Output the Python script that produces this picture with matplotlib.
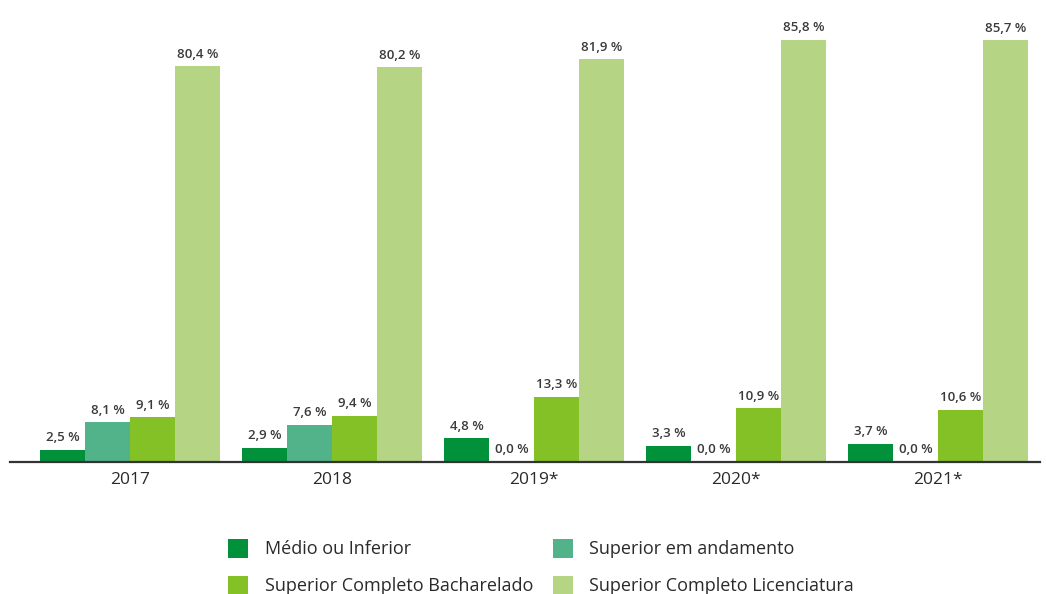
import matplotlib
matplotlib.use("Agg")
import matplotlib.pyplot as plt
import numpy as np
from matplotlib.patches import Patch

plt.rcParams['font.family'] = ['Open Sans', 'DejaVu Sans']

years = ["2017", "2018", "2019*", "2020*", "2021*"]
series_names = ["Médio ou Inferior", "Superior em andamento",
                "Superior Completo Bacharelado", "Superior Completo Licenciatura"]
medio = [2.5, 2.9, 4.8, 3.3, 3.7]
andamento = [8.1, 7.6, 0.0, 0.0, 0.0]
bacharelado = [9.1, 9.4, 13.3, 10.9, 10.6]
licenciatura = [80.4, 80.2, 81.9, 85.8, 85.7]
colors = ["#00913A", "#52B38A", "#84C126", "#B5D584"]

data = [medio, andamento, bacharelado, licenciatura]

fig = plt.figure(figsize=(10.46, 5.94), dpi=100)
ax = fig.add_axes([10/1046, 132/594, 1030/1046, 457/594])

x = np.arange(len(years))
w = 0.223
offsets = [-1.5, -0.5, 0.5, 1.5]
for vals, col, off in zip(data, colors, offsets):
    bars = ax.bar(x + off * w, vals, width=w, color=col, linewidth=0)
    for b, v in zip(bars, vals):
        ax.annotate(f"{v:.1f} %".replace(".", ","),
                    (b.get_x() + b.get_width() / 2, v),
                    xytext=(0, 4), textcoords="offset points",
                    ha="center", va="bottom", fontsize=9.5, fontweight="semibold",
                    color="#3a3a3a")

ax.set_xlim(-0.594, 4.505)
ax.set_ylim(0, 92.9)
ax.set_xticks(x)
ax.set_xticklabels(years, fontsize=12.5, color="#2a2a2a")
ax.tick_params(axis="x", length=0, pad=7)
ax.set_yticks([])
for s in ["top", "right", "left"]:
    ax.spines[s].set_visible(False)
ax.spines["bottom"].set_color("#333333")
ax.spines["bottom"].set_linewidth(1.6)

handles = [Patch(facecolor=c, edgecolor="none") for c in colors]
order = [0, 2, 1, 3]
leg = fig.legend([handles[i] for i in order], [series_names[i] for i in order],
                 ncol=2, loc="center", bbox_to_anchor=(541/1046, 1 - 567/594),
                 frameon=False, fontsize=13, handlelength=1.1, handleheight=1.2,
                 columnspacing=1.1, labelspacing=0.95, handletextpad=0.9)
for t in leg.get_texts():
    t.set_color("#2a2a2a")

fig.savefig("out.png", dpi=100)
